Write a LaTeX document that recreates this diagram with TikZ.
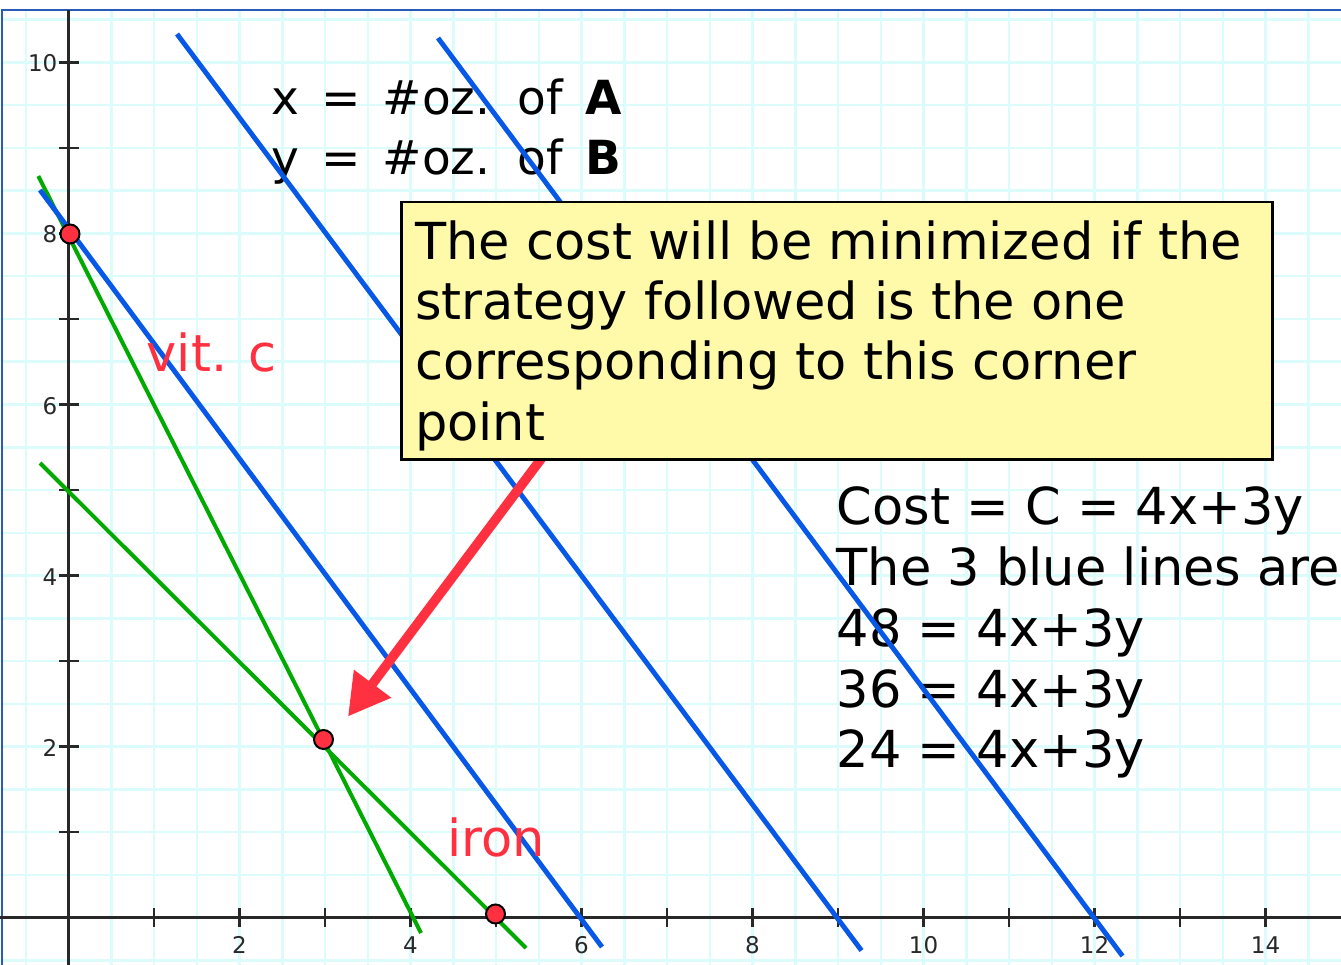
\documentclass[tikz,border=0pt]{standalone}
\usepackage{fontspec}
\newfontfamily\dv{DejaVu Sans}
\usetikzlibrary{arrows.meta}
\definecolor{gridc}{RGB}{220,252,252}
\definecolor{frameblue}{RGB}{40,90,185}
\definecolor{lineblue}{RGB}{8,88,232}
\definecolor{linegreen}{RGB}{0,170,0}
\definecolor{ptred}{RGB}{255,48,64}
\definecolor{boxyellow}{RGB}{255,250,170}
\definecolor{axisgray}{RGB}{40,40,40}
\newcommand\mywidesp{\spaceskip 22pt\relax}
\tikzset{
  gridline/.style={draw=gridc, line width=2.5pt},
  framest/.style={draw=frameblue, line width=2.5pt},
  axisst/.style={draw=axisgray, line width=2.5pt},
  ticklab/.style={inner sep=0pt, text=axisgray, font=\dv\fontsize{23}{26}\selectfont},
  blueln/.style={draw=lineblue, line width=4.9pt},
  greenln/.style={draw=linegreen, line width=4pt},
  ptst/.style={circle, minimum size=19pt, inner sep=0pt, fill=ptred, draw=black, line width=2pt},
  bigtxt/.style={anchor=base west, inner sep=0pt, font=\dv\fontsize{51}{61}\selectfont},
  toptxt/.style={anchor=base west, inner sep=0pt, font=\dv\fontsize{47}{60}\selectfont\mywidesp},
  redtxt/.style={bigtxt, text=ptred},
  redarrow/.style={draw=ptred, line width=9.5pt, -{Triangle[length=41pt,width=44pt]}},
  boxst/.style={draw=black, fill=boxyellow, line width=2.5pt, inner sep=0pt}
}
\begin{document}
\begin{tikzpicture}[x=1pt,y=-1pt]
\useasboundingbox (0,0) rectangle (1341,965);
\fill[white] (0,0) rectangle (1341,965);
% grid
\foreach \k in {-1,...,29} \draw[gridline] ({68.5+42.75*\k},10) -- ({68.5+42.75*\k},965);
\foreach \k in {-1,...,21} \draw[gridline] (2,{917.5-42.75*\k}) -- (1341,{917.5-42.75*\k});
% frame
\draw[framest] (2,965) -- (2,10) -- (1341,10);
% axes
\draw[axisst] (0,917.5) -- (1341,917.5);
\draw[axisst] (68.5,10) -- (68.5,965);
\foreach \k in {1,...,14} \draw[axisst] ({68.5+85.5*\k},908) -- ({68.5+85.5*\k},927);
\foreach \k in {1,...,10} \draw[axisst] (59,{917.5-85.5*\k}) -- (79,{917.5-85.5*\k});
\foreach \k in {2,4,...,14} \node[ticklab, anchor=base] (xl\k) at ({68.5+85.5*\k},953.5) {\k};
\foreach \k in {2,4,...,10} \node[ticklab, anchor=base east] (yl\k) at (57.5,{917.5-85.5*\k+9.5}) {\k};
% black texts
\node[toptxt] (tx) at (271.4,115) {x = \#oz. of \textbf{A}};
\node[toptxt] (ty) at (271.4,175) {y = \#oz. of \textbf{B}};
\node[bigtxt] (r1) at (836.5,524) {Cost = C = 4x+3y};
\node[bigtxt] (r2) at (836.5,585) {The 3 blue lines are};
\node[bigtxt] (r3) at (836.5,646) {48 = 4x+3y};
\node[bigtxt] (r4) at (836.5,707) {36 = 4x+3y};
\node[bigtxt] (r5) at (836.5,767) {24 = 4x+3y};
% lines
\coordinate (b24s) at (40,190);   \coordinate (b24e) at (602,947);
\coordinate (b36s) at (177,34);   \coordinate (b36e) at (861.5,950.5);
\coordinate (b48s) at (438,38);   \coordinate (b48e) at (1122.5,956);
\coordinate (gcs) at (38.3,176);  \coordinate (gce) at (421,933);
\coordinate (gis) at (40,463);    \coordinate (gie) at (526,948);
\draw[greenln] (gcs) -- (gce);
\draw[greenln] (gis) -- (gie);
\draw[blueln] (b24s) -- (b24e);
\draw[blueln] (b36s) -- (b36e);
\draw[blueln] (b48s) -- (b48e);
% points
\node[ptst] (p1) at (70,234) {};
\node[ptst] (p2) at (323.5,739.5) {};
\node[ptst] (p3) at (495.5,914) {};
% red labels
\node[redtxt] (vitc) at (146.5,372) {vit. c};
\node[redtxt] (iron) at (447,856) {iron};
% arrow
\coordinate (astart) at (545.8,452.6);
\coordinate (atip) at (348,716.5);
\draw[redarrow] (astart) -- (atip);
% box
\node[boxst, anchor=north west, minimum width=871pt, minimum height=257pt] (box) at (400,201) {};
\node[bigtxt] (t1) at (415,260) {The cost will be minimized if the};
\node[bigtxt] (t2) at (415,320) {strategy followed is the one};
\node[bigtxt] (t3) at (415,380) {corresponding to this corner};
\node[bigtxt] (t4) at (415,440) {point};
\end{tikzpicture}
\end{document}
